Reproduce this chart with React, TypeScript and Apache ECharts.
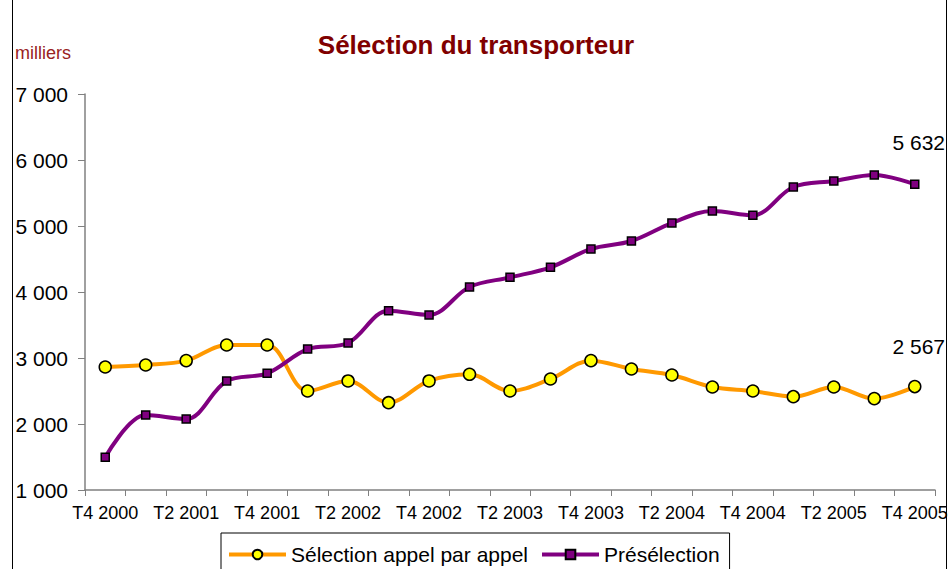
import React, { useEffect, useRef } from "react";
import * as echarts from "echarts";

const categories = [
  "T4 2000", "T1 2001", "T2 2001", "T3 2001", "T4 2001",
  "T1 2002", "T2 2002", "T3 2002", "T4 2002",
  "T1 2003", "T2 2003", "T3 2003", "T4 2003",
  "T1 2004", "T2 2004", "T3 2004", "T4 2004",
  "T1 2005", "T2 2005", "T3 2005", "T4 2005",
];
const appelParAppel = [
  2864, 2894, 2960, 3197, 3197, 2500, 2652, 2323, 2652, 2753, 2500,
  2682, 2960, 2833, 2742, 2561, 2500, 2414, 2561, 2384, 2567,
];
const preselection = [
  1495, 2136, 2076, 2652, 2768, 3136, 3227, 3717, 3652, 4076, 4222,
  4374, 4652, 4773, 5045, 5227, 5162, 5591, 5682, 5773, 5632,
];
const yTicks = { min: 1000, max: 7000, interval: 1000 };
const titleText = "Sélection du transporteur";
const unitText = "milliers";
const seriesNames = ["Sélection appel par appel", "Présélection"];

const FONT = "'Liberation Sans', Arial, sans-serif";
const fmt = (v: number) =>
  String(Math.round(v)).replace(/\B(?=(\d{3})+(?!\d))/g, " ");

function withLastLabel(values: number[], distance: number) {
  return values.map((v, i) =>
    i === values.length - 1
      ? {
          value: v,
          label: {
            show: true,
            position: "top",
            distance,
            offset: [4, 0],
            formatter: (p: any) => fmt(p.value),
            fontSize: 21,
            fontFamily: FONT,
            color: "#000",
          },
        }
      : v
  );
}

export default function App() {
  const ref = useRef<HTMLDivElement>(null);
  useEffect(() => {
    if (!ref.current) return;
    const chart = echarts.init(ref.current, undefined, { renderer: "svg" });
    chart.setOption({
      animation: false,
      backgroundColor: "#fff",
      title: {
        text: titleText,
        left: 471,
        top: 27,
        textAlign: "center",
        textStyle: {
          fontFamily: FONT,
          fontSize: 26,
          fontWeight: "bold",
          color: "#800000",
        },
      },
      graphic: [
        {
          type: "text",
          left: 15,
          top: 44,
          style: { text: unitText, fontFamily: FONT, fontSize: 18, fill: "#992222" },
        },
        { type: "line", shape: { x1: 12.5, y1: 0, x2: 12.5, y2: 569 }, style: { stroke: "#000", lineWidth: 1 } },
        { type: "line", shape: { x1: 946.5, y1: 0, x2: 946.5, y2: 569 }, style: { stroke: "#000", lineWidth: 1 } },
      ],
      legend: {
        left: 221,
        top: 533,
        padding: [11, 10, 20, 6],
        borderColor: "#000",
        borderWidth: 1,
        itemWidth: 57,
        itemHeight: 12,
        itemGap: 12,
        lineStyle: { width: 4 },
        textStyle: { fontFamily: FONT, fontSize: 21, color: "#000" },
        data: seriesNames,
      },
      grid: { left: 85, right: 16, top: 94, bottom: 79 },
      xAxis: {
        type: "category",
        data: categories,
        boundaryGap: true,
        axisLine: { lineStyle: { color: "#808080", width: 1.5 } },
        axisTick: { show: true, interval: 0, length: 6, lineStyle: { color: "#808080" } },
        axisLabel: {
          interval: 1,
          margin: 14,
          fontFamily: FONT,
          fontSize: 18,
          color: "#000",
        },
        splitLine: { show: false },
      },
      yAxis: {
        type: "value",
        min: yTicks.min,
        max: yTicks.max,
        interval: yTicks.interval,
        axisLine: { show: true, lineStyle: { color: "#808080", width: 1.5 } },
        axisTick: { show: true, length: 7, lineStyle: { color: "#808080" } },
        axisLabel: {
          margin: 17,
          fontFamily: FONT,
          fontSize: 21,
          color: "#000",
          formatter: (v: number) => fmt(v),
        },
        splitLine: { show: false },
      },
      series: [
        {
          name: seriesNames[0],
          type: "line",
          smooth: 0.35,
          data: withLastLabel(appelParAppel, 23),
          symbol: "circle",
          symbolSize: 12,
          lineStyle: { color: "#FF9900", width: 4 },
          itemStyle: { color: "#FFFF00", borderColor: "#000", borderWidth: 1.5 },
          z: 2,
        },
        {
          name: seriesNames[1],
          type: "line",
          smooth: 0.35,
          data: withLastLabel(preselection, 27),
          symbol: "rect",
          symbolSize: 8,
          lineStyle: { color: "#800080", width: 4 },
          itemStyle: { color: "#800080", borderColor: "#000", borderWidth: 1.5 },
          z: 3,
        },
      ],
    });
    return () => chart.dispose();
  }, []);
  return (
    <div
      ref={ref}
      style={{ position: "fixed", left: 0, top: 0, width: 951, height: 569 }}
    />
  );
}
